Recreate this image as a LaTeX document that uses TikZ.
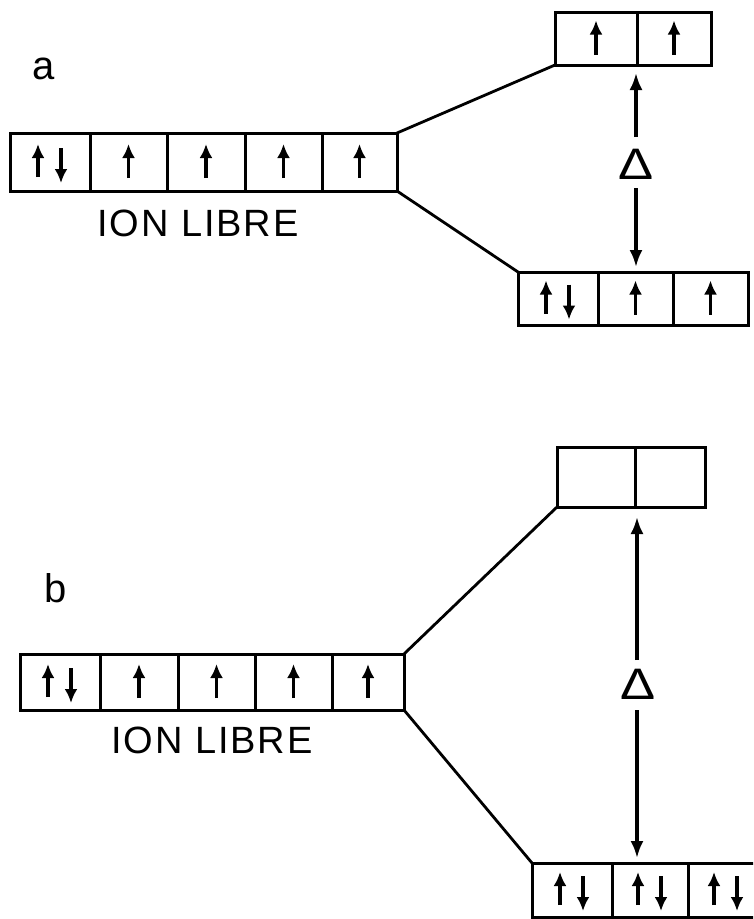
\documentclass[tikz,border=0pt]{standalone}
\usepackage{fontspec}
\setmainfont{Liberation Sans}
\newfontfamily\lblfont[LetterSpace=5]{Liberation Sans}
\usetikzlibrary{arrows.meta,calc}

\tikzset{
  cell/.style={draw, line width=3pt, inner sep=0pt, outer sep=0pt},
  spin/.style={line width=3.4pt, -{Latex[length=14pt,width=13pt]}},
  gap/.style={line width=3.2pt, -{Latex[length=17pt,width=13pt]}},
  split/.style={line width=2.8pt},
  label/.style={font=\lblfont\fontsize{38}{38}\selectfont, anchor=base, inner sep=0pt},
  tag/.style={font=\fontsize{40}{40}\selectfont, anchor=base, inner sep=0pt},
  deltalbl/.style={font=\fontsize{42}{42}\selectfont, inner sep=0pt}
}

% single electron, and a paired up/down electron pair, centred in a cell
\newcommand\spinone[1]{\draw[spin] ($(#1)+(0,16)$) -- ($(#1)+(0,-18)$);}
\newcommand\spintwo[1]{%
  \draw[spin] ($(#1)+(-12,15)$) -- ($(#1)+(-12,-18)$);
  \draw[spin] ($(#1)+(11,-14)$) -- ($(#1)+(11,21)$);}

\begin{document}
\begin{tikzpicture}[x=1pt, y=-1pt]
\useasboundingbox (0,0) rectangle (753,919);
\clip (0,0) rectangle (753,919);

% ---------------- (a) weak field ----------------
\node[tag] (la) at (44,79) {a};

\node[cell, minimum width=80, minimum height=58] (af1) at (50,162) {};
\node[cell, minimum width=77, minimum height=58] (af2) at (128.5,162) {};
\node[cell, minimum width=78, minimum height=58] (af3) at (206,162) {};
\node[cell, minimum width=77, minimum height=58] (af4) at (283.5,162) {};
\node[cell, minimum width=75, minimum height=58] (af5) at (359.5,162) {};
\node[label] (ionA) at (198,236) {ION LIBRE};

\node[cell, minimum width=82, minimum height=53] (at1) at (596,38.5) {};
\node[cell, minimum width=74, minimum height=53] (at2) at (674,38.5) {};

\node[cell, minimum width=80, minimum height=53] (ab1) at (558,298.5) {};
\node[cell, minimum width=75, minimum height=53] (ab2) at (635.5,298.5) {};
\node[cell, minimum width=75, minimum height=53] (ab3) at (710.5,298.5) {};

\spintwo{af1} \spinone{af2} \spinone{af3} \spinone{af4} \spinone{af5}
\spinone{at1} \spinone{at2}
\spintwo{ab1} \spinone{ab2} \spinone{ab3}

\draw[split] (af5.north east) -- (at1.south west);
\draw[split] (af5.south east) -- (ab1.north west);

\node[deltalbl] (dA) at (636,164) {\scalebox{1.25}[1.05]{Δ}};
\coordinate (dAup) at (636,137);
\coordinate (dAdn) at (636,188);
\draw[gap] (dAup) -- ([shift={(0,8)}]dAup |- at1.south);
\draw[gap] (dAdn) -- ([shift={(0,-5)}]dAdn |- ab2.north);

% ---------------- (b) strong field ----------------
\node[tag] (lb) at (56,602) {b};

\node[cell, minimum width=80, minimum height=56] (bf1) at (60,682) {};
\node[cell, minimum width=78, minimum height=56] (bf2) at (139,682) {};
\node[cell, minimum width=77, minimum height=56] (bf3) at (216.5,682) {};
\node[cell, minimum width=77, minimum height=56] (bf4) at (293.5,682) {};
\node[cell, minimum width=72, minimum height=56] (bf5) at (368,682) {};
\node[label] (ionB) at (212,753) {ION LIBRE};

\node[cell, minimum width=78, minimum height=60] (bt1) at (596,477) {};
\node[cell, minimum width=70, minimum height=60] (bt2) at (670,477) {};

\node[cell, minimum width=80, minimum height=54] (bb1) at (572,890) {};
\node[cell, minimum width=76, minimum height=54] (bb2) at (650,890) {};
\node[cell, minimum width=76, minimum height=54] (bb3) at (726,890) {};

\spintwo{bf1} \spinone{bf2} \spinone{bf3} \spinone{bf4} \spinone{bf5}
\spintwo{bb1} \spintwo{bb2} \spintwo{bb3}

\draw[split] (bf5.north east) -- (bt1.south west);
\draw[split] (bf5.south east) -- (bb1.north west);

\node[deltalbl] (dB) at (638,684) {\scalebox{1.25}[1.05]{Δ}};
\coordinate (dBup) at (637,660);
\coordinate (dBdn) at (637,710);
\draw[gap] (dBup) -- ([shift={(0,10)}]dBup |- bt1.south);
\draw[gap] (dBdn) -- ([shift={(0,-5)}]dBdn |- bb2.north);
\end{tikzpicture}
\end{document}
